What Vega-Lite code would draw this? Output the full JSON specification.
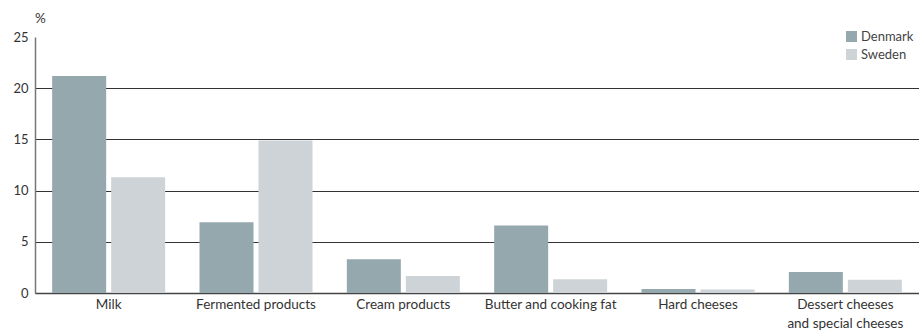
{
  "$schema": "https://vega.github.io/schema/vega-lite/v6.json",
  "width": 884,
  "height": 256,
  "autosize": "none",
  "padding": {"left": 35, "top": 37, "right": 0, "bottom": 38},
  "background": "white",
  "config": {
    "view": {"stroke": null},
    "font": "Lato",
    "axis": {"labelFont": "Lato", "titleFont": "Lato", "labelColor": "#333", "titleColor": "#333"},
    "legend": {"labelFont": "Lato"}
  },
  "data": {
    "values": [
      {"category": "Milk", "country": "Denmark", "value": 21.2},
      {"category": "Milk", "country": "Sweden", "value": 11.3},
      {"category": "Fermented products", "country": "Denmark", "value": 6.9},
      {"category": "Fermented products", "country": "Sweden", "value": 14.9},
      {"category": "Cream products", "country": "Denmark", "value": 3.3},
      {"category": "Cream products", "country": "Sweden", "value": 1.65},
      {"category": "Butter and cooking fat", "country": "Denmark", "value": 6.6},
      {"category": "Butter and cooking fat", "country": "Sweden", "value": 1.35},
      {"category": "Hard cheeses", "country": "Denmark", "value": 0.4},
      {"category": "Hard cheeses", "country": "Sweden", "value": 0.35},
      {"category": "Dessert cheeses and special cheeses", "country": "Denmark", "value": 2.05},
      {"category": "Dessert cheeses and special cheeses", "country": "Sweden", "value": 1.3}
    ]
  },
  "mark": {"type": "bar"},
  "encoding": {
    "x": {
      "field": "category",
      "type": "nominal",
      "sort": null,
      "scale": {"paddingInner": 0, "paddingOuter": 0},
      "axis": {
        "title": null,
        "labelAngle": 0,
        "labelFontSize": 13.5,
        "labelPadding": 4,
        "labelLineHeight": 19,
        "ticks": false,
        "domainColor": "#444",
        "domainWidth": 1.5,
        "labelExpr": "datum.label == 'Dessert cheeses and special cheeses' ? ['Dessert cheeses', 'and special cheeses'] : datum.label"
      }
    },
    "xOffset": {
      "field": "country",
      "type": "nominal",
      "scale": {"paddingInner": 0.0847, "paddingOuter": 0.291}
    },
    "y": {
      "field": "value",
      "type": "quantitative",
      "scale": {"domain": [0, 25], "nice": false},
      "axis": {
        "title": "%",
        "titleAngle": 0,
        "titleX": 5,
        "titleY": -19,
        "titleAlign": "center",
        "titleBaseline": "middle",
        "titleFontSize": 13.5,
        "titleFontWeight": "normal",
        "values": [0, 5, 10, 15, 20, 25],
        "labelFontSize": 13,
        "labelPadding": 7,
        "ticks": false,
        "domainColor": "#777",
        "domainWidth": 1.5,
        "grid": true,
        "gridColor": {"condition": {"test": "datum.value == 25", "value": "transparent"}, "value": "#333"},
        "gridWidth": 1,
        "gridOpacity": 1
      }
    },
    "color": {
      "field": "country",
      "type": "nominal",
      "scale": {"domain": ["Denmark", "Sweden"], "range": ["#95a8ae", "#cdd3d7"]},
      "legend": {
        "title": null,
        "orient": "none",
        "legendX": 810,
        "legendY": -7,
        "symbolType": "square",
        "symbolSize": 121,
        "symbolStrokeWidth": 0,
        "labelFontSize": 13,
        "labelColor": "#444",
        "rowPadding": 4,
        "labelOffset": 3
      }
    }
  }
}
